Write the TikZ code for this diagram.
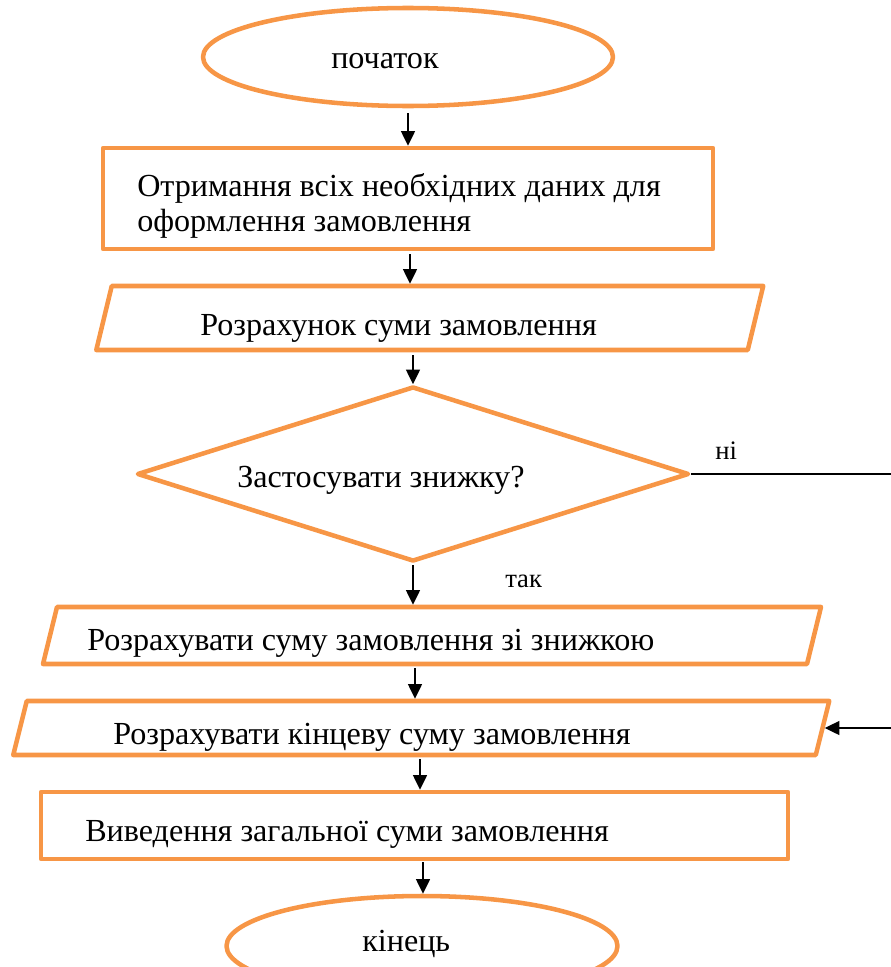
\documentclass[tikz,border=0pt]{standalone}
\usepackage{fontspec}
\setmainfont{Liberation Serif}
\usetikzlibrary{shapes.geometric,arrows.meta}
\definecolor{flowborder}{HTML}{F79646}
% slanted (input/output) block drawn around a helper rectangle node
\newcommand\drawslant[2]{%
  \draw[outline] ([xshift=#2]#1.north west) -- ([xshift=#2]#1.north east)
    -- ([xshift=-#2]#1.south east) -- ([xshift=-#2]#1.south west) -- cycle;}
\begin{document}
\begin{tikzpicture}[x=0.75pt,y=-0.75pt,
  outline/.style={draw=flowborder, line width=3.4pt, line join=round},
  term/.style={outline, ellipse, inner sep=0pt},
  box/.style={outline, rectangle, inner sep=0pt},
  decision/.style={outline, diamond, inner sep=0pt},
  slantbase/.style={rectangle, inner sep=0pt, outer sep=0pt},
  txt/.style={font=\fontsize{24.1pt}{28pt}\selectfont, anchor=base west, inner sep=0pt},
  small/.style={font=\fontsize{20pt}{23pt}\selectfont, anchor=base west, inner sep=0pt},
  arr/.style={-{Triangle[length=11pt,width=10.5pt]}, line width=1.1pt, black},
  link/.style={line width=1.1pt, black}]

\useasboundingbox (0,0) rectangle (891,967);
\clip (0,0) rectangle (891,967);

% blocks
\node[term, minimum width=307.5pt, minimum height=73.5pt] (start) at (408,57) {};
\node[box, minimum width=457.5pt, minimum height=75.75pt] (getdata) at (408,198.5) {};
\node[slantbase, minimum width=488.6pt, minimum height=48pt] (calcsum) at (429.75,318) {};
\drawslant{calcsum}{5.8pt}
\node[decision, minimum width=414pt, minimum height=131.25pt] (ask) at (413,474) {};
\node[slantbase, minimum width=573pt, minimum height=42.75pt] (discount) at (432,635.5) {};
\drawslant{discount}{5.25pt}
\node[slantbase, minimum width=601.9pt, minimum height=40.5pt] (final) at (421.25,728) {};
\drawslant{final}{5.06pt}
\node[box, minimum width=560.25pt, minimum height=50.25pt] (output) at (414.5,825.5) {};
\node[term, minimum width=293.25pt, minimum height=75pt] (stop) at (422,946) {};

% texts
\node[txt] (tstart) at (331,68) {початок};
\node[txt] (tget1) at (137,196) {Отримання всіх необхідних даних для};
\node[txt] (tget2) at (137,231) {оформлення замовлення};
\node[txt] (tcalc) at (200,335) {Розрахунок суми замовлення};
\node[txt] (task) at (237,487) {Застосувати знижку?};
\node[txt] (tdisc) at (87,650) {Розрахувати суму замовлення зі знижкою};
\node[txt] (tfinal) at (113,744) {Розрахувати кінцеву суму замовлення};
\node[txt] (tout) at (85,841) {Виведення загальної суми замовлення};
\node[txt] (tstop) at (362,951) {кінець};
\node[small] (lno) at (715,459) {ні};
\node[small] (lyes) at (505,587) {так};

% arrow tails and free ends
\coordinate (s1) at (408,113);
\coordinate (s2) at (410,254);
\coordinate (s3) at (413,355);
\coordinate (s4) at (413,565);
\coordinate (s5) at (415,668);
\coordinate (s6) at (420,759);
\coordinate (s7) at (423,862);
\coordinate (noend) at (895,474);
\coordinate (backin) at (895,728);

% connectors
\draw[arr] (s1) -- (getdata.north -| s1);
\draw[arr, shorten >=1.7pt] (s2) -- (calcsum.north -| s2);
\draw[arr] (s3) -- (ask.north -| s3);
\draw[arr, shorten >=1.7pt] (s4) -- (discount.north -| s4);
\draw[arr, shorten >=1.7pt] (s5) -- (final.north -| s5);
\draw[arr] (s6) -- (output.north -| s6);
\draw[arr] (s7) -- (stop.north -| s7);
\draw[link] (ask.east) -- (noend);
\draw[arr, shorten >=1.7pt] (backin) -- (final.east);
\end{tikzpicture}
\end{document}
